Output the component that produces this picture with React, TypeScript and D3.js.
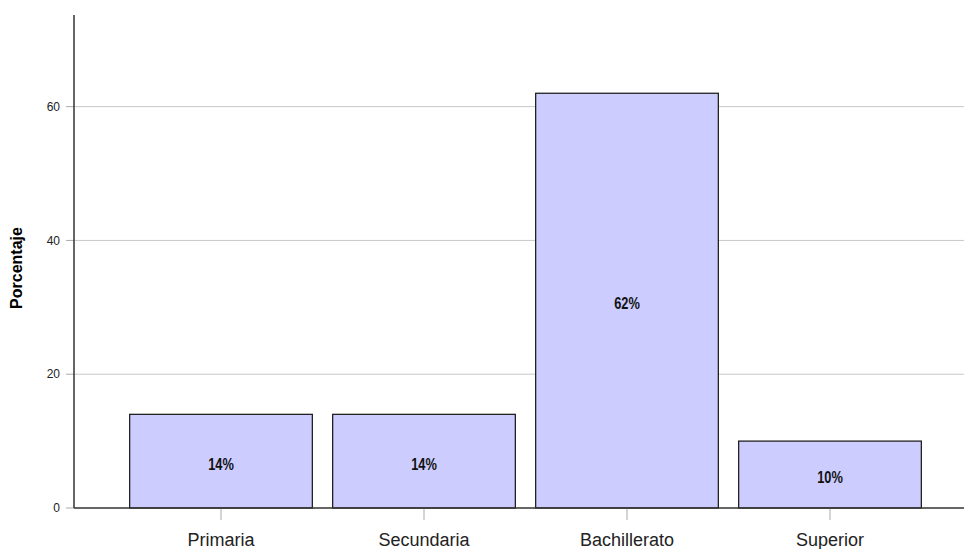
import React from "react";
import * as d3 from "d3";

const categories = ["Primaria", "Secundaria", "Bachillerato", "Superior"];
const values = [14, 14, 62, 10];
const valueLabels = ["14%", "14%", "62%", "10%"];
const yTicks = [0, 20, 40, 60];

const W = 964;
const H = 549;
const axisX = 74;
const y0 = 508;
const yTop = 15;

export default function App() {
  const y = d3.scaleLinear().domain([0, 73.7]).range([y0, yTop]);
  const x = d3
    .scaleBand<string>()
    .domain(categories)
    .range([119.5, 931.5])
    .paddingInner(0.1)
    .paddingOuter(0.05);

  return (
    <svg
      width={W}
      height={H}
      style={{ position: "absolute", left: 0, top: 0, background: "#fff" }}
      fontFamily="'Liberation Sans', Arial, sans-serif"
    >
      {/* gridlines */}
      {yTicks.filter((t) => t > 0).map((t) => (
        <line key={"g" + t} x1={axisX} x2={W} y1={y(t)} y2={y(t)} stroke="#c8c8c8" strokeWidth={1} />
      ))}
      {/* y ticks */}
      {yTicks.map((t) => (
        <g key={"t" + t}>
          <line x1={66} x2={axisX} y1={y(t)} y2={y(t)} stroke="#aaa" strokeWidth={1} />
          <text x={60} y={y(t)} dy="0.35em" textAnchor="end" fontSize={12} fill="#222">
            {t}
          </text>
        </g>
      ))}
      {/* bars */}
      {categories.map((c, i) => (
        <rect
          key={c}
          x={x(c)}
          y={y(values[i])}
          width={x.bandwidth()}
          height={y0 - y(values[i])}
          fill="#ccccff"
          stroke="#222"
          strokeWidth={1.3}
        />
      ))}
      {/* value labels */}
      {categories.map((c, i) => {
        const cx = (x(c) as number) + x.bandwidth() / 2;
        const cy = (y(values[i]) + y0) / 2 + 3;
        return (
          <text
            key={"v" + c}
            transform={`translate(${cx},${cy}) scale(0.8,1)`}
            dy="0.35em"
            textAnchor="middle"
            fontSize={16}
            fontWeight="bold"
            fill="#111"
          >
            {valueLabels[i]}
          </text>
        );
      })}
      {/* x ticks and labels */}
      {categories.map((c) => {
        const cx = (x(c) as number) + x.bandwidth() / 2;
        return (
          <g key={"x" + c}>
            <line x1={cx} x2={cx} y1={y0} y2={520} stroke="#aaa" strokeWidth={1} />
            <text x={cx} y={545.5} textAnchor="middle" fontSize={18} fill="#222">
              {c}
            </text>
          </g>
        );
      })}
      {/* axes */}
      <line x1={axisX} x2={W} y1={y0} y2={y0} stroke="#333" strokeWidth={1.5} />
      <line x1={axisX} x2={axisX} y1={yTop} y2={y0} stroke="#333" strokeWidth={1.5} />
      {/* y axis title */}
      <text
        transform={`translate(22,${268}) rotate(-90)`}
        textAnchor="middle"
        fontSize={16}
        fontWeight="bold"
        fill="#000"
      >
        Porcentaje
      </text>
    </svg>
  );
}
